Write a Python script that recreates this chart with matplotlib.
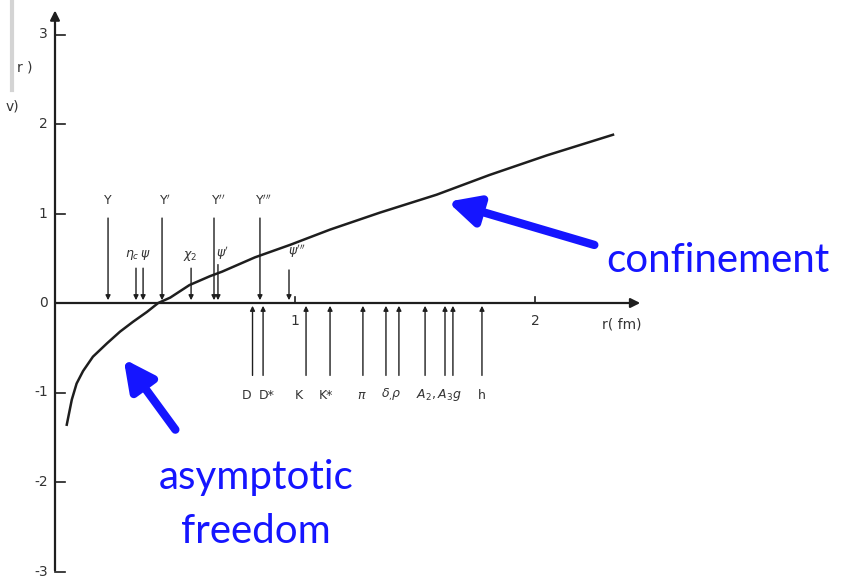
import matplotlib.pyplot as plt
import numpy as np

# ---- data ----
# potential curve V(r), r in fm, V in GeV
curve_r = [0.049, 0.07, 0.09, 0.117, 0.158, 0.217, 0.271, 0.325, 0.383, 0.43, 0.48,
           0.56, 0.646, 0.696, 0.833, 0.98, 1.146, 1.354, 1.59, 1.81, 2.05, 2.325]
curve_v = [-1.36, -1.08, -0.90, -0.76, -0.60, -0.45, -0.32, -0.21, -0.10, 0.0, 0.06,
           0.20, 0.30, 0.35, 0.51, 0.65, 0.82, 1.01, 1.21, 1.43, 1.65, 1.88]

# heavy quarkonium states (arrows from above)
upper_r = [0.221, 0.3375, 0.367, 0.446, 0.567, 0.6625, 0.679, 0.854, 0.975]
upper_top = [0.98, 0.42, 0.42, 0.98, 0.42, 0.98, 0.46, 0.98, 0.40]

# light / open-flavour states (arrows from below)
lower_r = [0.823, 0.867, 1.046, 1.146, 1.283, 1.379, 1.433, 1.542, 1.625, 1.658, 1.779]
lower_bottom = -0.84

upper_labels = [(0.22, 1.14, r'$\Upsilon$'), (0.345, 0.54, r'$\eta_c\,\psi$'),
                (0.46, 1.14, r"$\Upsilon'$"), (0.565, 0.52, r'$\chi_2$'),
                (0.68, 1.14, r"$\Upsilon''$"), (0.70, 0.56, r"$\psi'$"),
                (0.87, 1.14, r"$\Upsilon'''$"), (1.01, 0.58, r"$\psi'''$")]
lower_labels = [(0.80, r'D'), (0.88, r'D*'), (1.015, r'K'), (1.13, r'K*'),
                (1.28, r'$\pi$'), (1.40, r'$\delta_{,}\rho$'),
                (1.60, r'$A_2,A_3 g$'), (1.78, r'h')]

yticks = [-3, -2, -1, 0, 1, 2, 3]
xticks = [1, 2]

# ---- figure: one axes covering the whole picture ----
fig = plt.figure(figsize=(8.53, 5.77), dpi=100)
ax = fig.add_axes([0, 0, 1, 1])
ax.set_xlim(-55 / 240, 798 / 240)
ax.set_ylim(-274 / 89.5, 303 / 89.5)
ax.axis('off')

ink = '#1e1e1e'

# axes drawn by hand like the scan
ax.annotate('', xy=(0, 3.3), xytext=(0, -3.02),
            arrowprops=dict(arrowstyle='-|>', lw=1.6, color=ink, mutation_scale=14))
ax.annotate('', xy=(2.45, 0), xytext=(-0.01, 0),
            arrowprops=dict(arrowstyle='-|>', lw=1.6, color=ink, mutation_scale=14))
for t in yticks:
    ax.plot([0, 0.04], [t, t], color=ink, lw=1.2)
    ax.text(-0.03, t, str(t), ha='right', va='center', fontsize=10, color='#333333')
for t in xticks:
    ax.plot([t, t], [0, 0.07], color=ink, lw=1.2)
    ax.text(t, -0.2, str(t), ha='center', va='center', fontsize=10, color='#333333')
ax.text(2.36, -0.24, 'r( fm)', ha='center', va='center', fontsize=10, color='#333333')

# cut-off axis label and scanner edge
ax.text(-0.125, 2.63, 'r )', ha='center', va='center', fontsize=10, color='#333333')
ax.text(-0.205, 2.2, 'v)', ha='left', va='center', fontsize=10, color='#333333')
ax.plot([-0.18, -0.18], [3.4, 2.38], color='#d4d4d4', lw=3)

# potential curve
ax.plot(curve_r, curve_v, color=ink, lw=1.8)

# level arrows
for r, top in zip(upper_r, upper_top):
    ax.annotate('', xy=(r, 0), xytext=(r, top),
                arrowprops=dict(arrowstyle='-|>', lw=1.0, color=ink, mutation_scale=7))
for r in lower_r:
    ax.annotate('', xy=(r, 0), xytext=(r, lower_bottom),
                arrowprops=dict(arrowstyle='-|>', lw=1.0, color=ink, mutation_scale=7))
for r, v, s in upper_labels:
    ax.text(r, v, s, ha='center', va='center', fontsize=9, color='#333333')
for r, s in lower_labels:
    ax.text(r, -1.03, s, ha='center', va='center', fontsize=9, color='#333333')

# blue annotations
blue = '#1515ff'
ax.annotate('', xy=(390 / 240, 1.14), xytext=(542 / 240, 0.64),
            arrowprops=dict(arrowstyle='-|>', lw=6, color=blue, mutation_scale=45))
ax.annotate('', xy=(67 / 240, -0.60), xytext=(122 / 240, -1.44),
            arrowprops=dict(arrowstyle='-|>', lw=6, color=blue, mutation_scale=45))
ax.text(663 / 240, 0.48, 'confinement', ha='center', va='center',
        fontsize=29, color=blue, family='Lato')
ax.text(201 / 240, -1.95, 'asymptotic', ha='center', va='center',
        fontsize=29, color=blue, family='Lato')
ax.text(201 / 240, -2.55, 'freedom', ha='center', va='center',
        fontsize=29, color=blue, family='Lato')

fig.savefig('out.png', dpi=100)
